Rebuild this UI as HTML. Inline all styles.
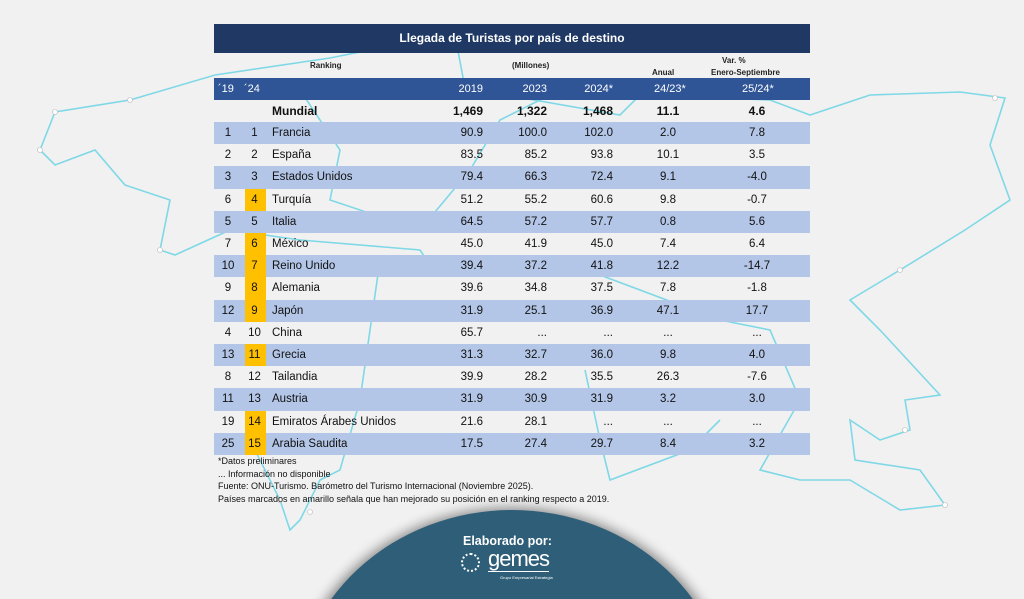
<!DOCTYPE html>
<html><head><meta charset="utf-8"><style>
*{margin:0;padding:0;box-sizing:border-box}
html,body{width:1024px;height:599px;overflow:hidden}
body{background:#f1f1f1;font-family:"Liberation Sans",sans-serif;position:relative}
svg.bg{position:absolute;left:0;top:0}
.t{position:absolute;left:214px;width:596px}
.title{top:24px;height:29px;background:#1f3864;color:#fff;font-weight:bold;font-size:12px;text-align:center;line-height:29px}
.hdr{top:78px;height:22px;background:#2f5597;color:#fff;font-size:11px}
.row{position:absolute;left:214px;width:596px;height:22.2px;font-size:11.5px;color:#111}
.row.b{background:#b4c6e7}
.row span,.hdr span{position:absolute;line-height:22px;white-space:nowrap}
.y{background:#ffc000}
.sm{position:absolute;font-size:8px;color:#222;font-weight:bold}
.ft{position:absolute;left:218px;font-size:9px;color:#111;line-height:12.6px}
</style></head><body>
<svg class="bg" width="1024" height="599">
<g fill="none" stroke="#7fd8e6" stroke-width="1.6">
<polyline points="40,150 55,112 130,100 215,75 330,58 420,40 455,35 465,88 620,115 640,95 770,100 810,115 870,95 960,92 1005,98 990,145 1010,200 965,230 900,270 850,300 880,330 940,395 905,400 910,430 880,440 850,420 855,460 920,470 945,505 900,510 850,480 800,480 760,470 800,400 770,330 720,320 560,260 430,265 420,250 300,240 230,230 175,255 160,250 170,200 125,185 95,150 55,165 40,150"/>
<polyline points="250,440 280,500 290,530 300,520 320,480 340,470 360,400 380,260"/>
<polyline points="585,370 600,440 610,480 690,450 720,420"/>
<polyline points="300,90 340,150 330,200 420,230 470,170 500,120 560,90"/>
</g>
<g fill="#fff" stroke="#bbb" stroke-width="0.6">
<circle cx="40" cy="150" r="2.5"/><circle cx="55" cy="112" r="2.5"/><circle cx="130" cy="100" r="2.5"/><circle cx="995" cy="98" r="2.5"/><circle cx="905" cy="430" r="2.5"/><circle cx="945" cy="505" r="2.5"/><circle cx="160" cy="250" r="2.5"/><circle cx="280" cy="500" r="2.5"/><circle cx="310" cy="512" r="2.5"/><circle cx="900" cy="270" r="2.5"/>
</g>
<defs><filter id="sh" x="-20%" y="-20%" width="140%" height="140%"><feGaussianBlur stdDeviation="6"/></filter></defs>
<ellipse cx="512" cy="712" rx="222" ry="204" fill="#000" opacity="0.45" filter="url(#sh)"/>
<ellipse cx="512" cy="712" rx="218" ry="202" fill="#2e5e78"/>
</svg>
<div class="t title">Llegada de Turistas por país de destino</div>
<div class="sm" style="left:310px;top:61px">Ranking</div>
<div class="sm" style="left:512px;top:61px">(Millones)</div>
<div class="sm" style="left:652px;top:68px">Anual</div>
<div class="sm" style="left:722px;top:56px">Var. %</div>
<div class="sm" style="left:711px;top:68px">Enero-Septiembre</div>
<div class="t hdr"><span style="left:4px">´19</span><span style="left:30px">´24</span><span style="right:327px">2019</span><span style="right:263px">2023</span><span style="right:197px">2024*</span><span style="left:440px;width:28px;text-align:center">24/23*</span><span style="left:528px;width:30px;text-align:center">25/24*</span></div>
<div id="rows"></div>
<div class="row" style="top:100px;font-weight:bold;font-size:12px"><span style="left:58px">Mundial</span><span style="right:327px">1,469</span><span style="right:263px">1,322</span><span style="right:197px">1,468</span><span style="left:440px;width:28px;text-align:center">11.1</span><span style="left:528px;width:30px;text-align:center">4.6</span></div>
<script>
const d=[["1","1","Francia","90.9","100.0","102.0","2.0","7.8",0],["2","2","España","83.5","85.2","93.8","10.1","3.5",0],["3","3","Estados Unidos","79.4","66.3","72.4","9.1","-4.0",0],["6","4","Turquía","51.2","55.2","60.6","9.8","-0.7",1],["5","5","Italia","64.5","57.2","57.7","0.8","5.6",0],["7","6","México","45.0","41.9","45.0","7.4","6.4",1],["10","7","Reino Unido","39.4","37.2","41.8","12.2","-14.7",1],["9","8","Alemania","39.6","34.8","37.5","7.8","-1.8",1],["12","9","Japón","31.9","25.1","36.9","47.1","17.7",1],["4","10","China","65.7","...","...","...","...",0],["13","11","Grecia","31.3","32.7","36.0","9.8","4.0",1],["8","12","Tailandia","39.9","28.2","35.5","26.3","-7.6",0],["11","13","Austria","31.9","30.9","31.9","3.2","3.0",0],["19","14","Emiratos Árabes Unidos","21.6","28.1","...","...","...",1],["25","15","Arabia Saudita","17.5","27.4","29.7","8.4","3.2",1]];
let h="";d.forEach((r,i)=>{const top=122+i*22.2;h+=`<div class="row${i%2==0?' b':''}" style="top:${top}px">${r[8]?'<div class="y" style="position:absolute;left:31px;width:21px;top:0;height:100%"></div>':''}<span style="left:2px;width:24px;text-align:center">${r[0]}</span><span style="left:30px;width:21px;text-align:center">${r[1]}</span><span style="left:58px">${r[2]}</span><span style="right:327px">${r[3]}</span><span style="right:263px">${r[4]}</span><span style="right:197px">${r[5]}</span><span style="left:440px;width:28px;text-align:center">${r[6]}</span><span style="left:528px;width:30px;text-align:center">${r[7]}</span></div>`});
document.getElementById("rows").innerHTML=h;
</script>
<div class="ft" style="top:455px">*Datos preliminares<br>... Información no disponible<br>Fuente: ONU-Turismo. Barómetro del Turismo Internacional (Noviembre 2025).<br>Países marcados en amarillo señala que han mejorado su posición en el ranking respecto a 2019.</div>
<div style="position:absolute;left:463px;top:534px;color:#fff;font-weight:bold;font-size:12.5px">Elaborado por:</div>
<div style="position:absolute;left:461px;top:553px;width:19px;height:19px;border:2px dotted #fff;border-radius:50%"></div>
<div style="position:absolute;left:488px;top:548px;color:#fff;font-size:22px;letter-spacing:-1px;border-bottom:1px solid #fff;line-height:22px;height:24px">gemes</div>
<div style="position:absolute;left:500px;top:575px;color:#fff;font-size:4px">Grupo Empresarial Estrategia</div>
</body></html>
